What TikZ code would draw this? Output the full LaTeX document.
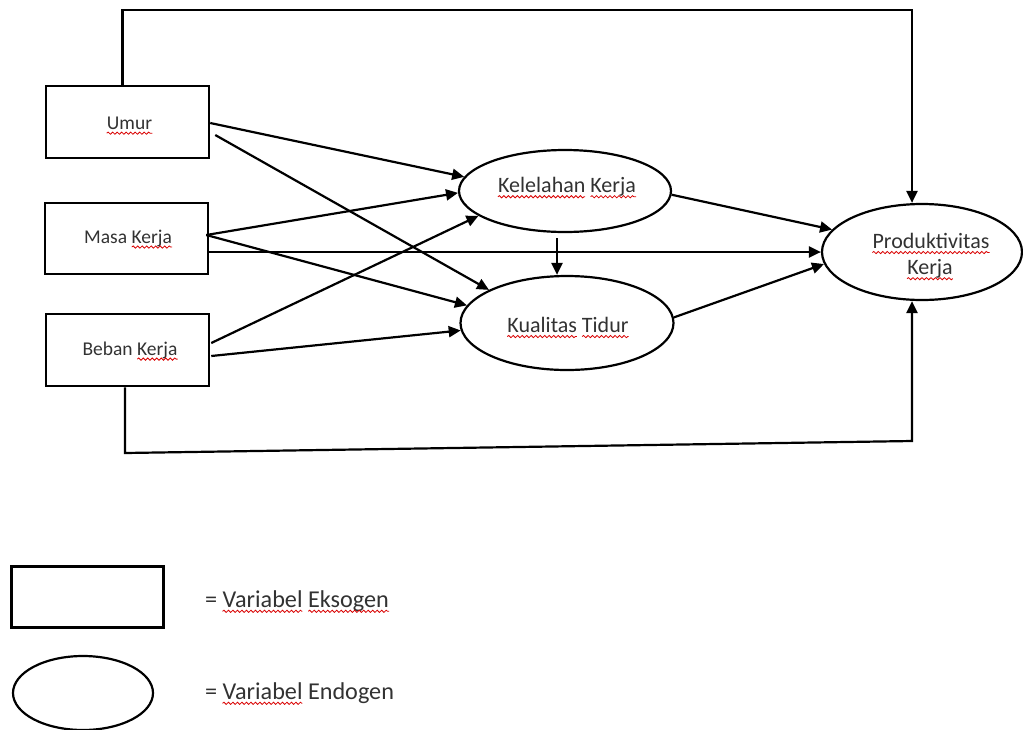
\documentclass[tikz,border=0pt]{standalone}
\usepackage{fontspec}
\setmainfont{Carlito}
\usetikzlibrary{arrows.meta,shapes.geometric,decorations.pathmorphing,calc}
\definecolor{txtgray}{RGB}{50,50,50}
\newcommand\boxfont{\fontsize{19.5}{23}\selectfont}
\newcommand\ellfont{\fontsize{22}{28}\selectfont}
\newcommand\legfont{\fontsize{24.2}{28}\selectfont}
\newlength\wKb \newlength\wKel \newlength\wKe \newlength\wKua \newlength\wTid
\newlength\wEq \newlength\wEqV \newlength\wEks
\AtBeginDocument{%
\settowidth\wKb{\normalfont\boxfont Kerja}%
\settowidth\wKel{\normalfont\ellfont Kelelahan}%
\settowidth\wKe{\normalfont\ellfont Kerja}%
\settowidth\wKua{\normalfont\ellfont Kualitas}%
\settowidth\wTid{\normalfont\ellfont Tidur}%
\settowidth\wEq{\normalfont\legfont =\ }%
\settowidth\wEqV{\normalfont\legfont =\ Variabel}%
\settowidth\wEks{\normalfont\legfont Eksogen}%
}
\newcommand\sqline[2]{\draw[squigl] #1 -- #2;}
\tikzset{
  ebox/.style={draw, line width=2.5pt, minimum width=163pt, minimum height=72pt, inner sep=0pt},
  eell/.style={draw, ellipse, line width=2.2pt, inner sep=0pt},
  btxt/.style={text=txtgray, font=\boxfont, inner sep=0pt},
  lbl/.style={text=txtgray, font=\ellfont, inner sep=0pt},
  leg/.style={text=txtgray, font=\legfont, anchor=west, inner sep=0pt},
  conn/.style={line width=2.2pt, -{Triangle[length=12pt,width=11pt]}},
  squigl/.style={draw=red!85!black, line width=0.8pt, decorate,
    decoration={snake, segment length=4.5pt, amplitude=1.1pt}}
}
\begin{document}
\begin{tikzpicture}[x=1pt,y=-1pt]
\useasboundingbox (0,0) rectangle (1023,729);
% exogenous boxes
\node[ebox] (umur) at (127.5,122) {};
\node[btxt] (umurtxt) at (129.5,123) {Umur};
\node[ebox, minimum height=71pt] (masa) at (126.5,238.5) {};
\node[btxt] (masatxt) at (128,238) {Masa Kerja};
\node[ebox] (beban) at (127.5,350) {};
\node[btxt] (bebantxt) at (130,350) {Beban Kerja};
% endogenous ellipses
\node[eell, minimum width=212pt, minimum height=82pt] (kel) at (565,191) {};
\node[lbl] (keltxt) at (567,187) {Kelelahan Kerja};
\node[eell, minimum width=213pt, minimum height=94pt] (kua) at (567,323) {};
\node[lbl] (kuatxt) at (568,325) {Kualitas Tidur};
\node[eell, minimum width=200pt, minimum height=96pt] (prod) at (922,252) {};
\node[lbl] (prodtxt1) at (931,241) {Produktivitas};
\node[lbl] (prodtxt2) at (930,269) {Kerja};
% corner coordinates
\coordinate (tr) at (912,10);
\coordinate (bl) at (125,453);
\coordinate (br) at (912,441);
% connectors
\draw[conn] ([yshift=-1pt]umur.east) -- (kel.172);
\draw[conn] ([xshift=5pt,yshift=-13pt]umur.east) -- (kua.157);
\draw[conn] ([xshift=-3pt,yshift=3.5pt]masa.east) -- (kel.181);
\draw[conn] ([xshift=-3pt,yshift=3.5pt]masa.east) -- (kua.170);
\draw[conn] ([yshift=-13.5pt]masa.east) -- (prod.west);
\draw[conn] ([xshift=1pt,yshift=7pt]beban.east) -- (kel.196);
\draw[conn] ([xshift=1pt,yshift=-6pt]beban.east) -- (kua.184);
\draw[conn, shorten <=5pt] ([xshift=-8pt]kel.south) -- ([xshift=-10pt]kua.north);
\draw[conn] (kel.358) -- (prod.166);
\draw[conn] (kua.3) -- (prod.187.5);
\draw[conn] ([xshift=-5pt]umur.north) |- (tr) -- ([xshift=-10pt]prod.north);
\draw[conn] ([xshift=-2.5pt]beban.south) -- (bl) -- (br) -- ([xshift=-10pt]prod.south);
% legend
\node[ebox, minimum width=152pt, minimum height=61pt] (legbox) at (87.5,597) {};
\node[leg] (legtxt1) at (205,601) {= Variabel Eksogen};
\node[eell, minimum width=140pt, minimum height=74pt] (legell) at (83,693) {};
\node[leg] (legtxt2) at (205,693) {= Variabel Endogen};
% spell-check squiggles
\sqline{($(umurtxt.base west)+(0pt,-4pt)$)}{($(umurtxt.base east)+(0pt,-4pt)$)}
\sqline{($(masatxt.base east)+(-\wKb,-4pt)$)}{($(masatxt.base east)+(0pt,-4pt)$)}
\sqline{($(bebantxt.base east)+(-\wKb,-4pt)$)}{($(bebantxt.base east)+(0pt,-4pt)$)}
\sqline{($(keltxt.base west)+(0pt,-4pt)$)}{($(keltxt.base west)+(\wKel,-4pt)$)}
\sqline{($(keltxt.base east)+(-\wKe,-4pt)$)}{($(keltxt.base east)+(0pt,-4pt)$)}
\sqline{($(kuatxt.base west)+(0pt,-4pt)$)}{($(kuatxt.base west)+(\wKua,-4pt)$)}
\sqline{($(kuatxt.base east)+(-\wTid,-4pt)$)}{($(kuatxt.base east)+(0pt,-4pt)$)}
\sqline{($(prodtxt1.base west)+(0pt,-4pt)$)}{($(prodtxt1.base east)+(0pt,-4pt)$)}
\sqline{($(prodtxt2.base west)+(0pt,-4pt)$)}{($(prodtxt2.base east)+(0pt,-4pt)$)}
\sqline{($(legtxt1.base west)+(\wEq,-4pt)$)}{($(legtxt1.base west)+(\wEqV,-4pt)$)}
\sqline{($(legtxt1.base east)+(-\wEks,-4pt)$)}{($(legtxt1.base east)+(0pt,-4pt)$)}
\sqline{($(legtxt2.base west)+(\wEq,-4pt)$)}{($(legtxt2.base west)+(\wEqV,-4pt)$)}
\end{tikzpicture}
\end{document}
